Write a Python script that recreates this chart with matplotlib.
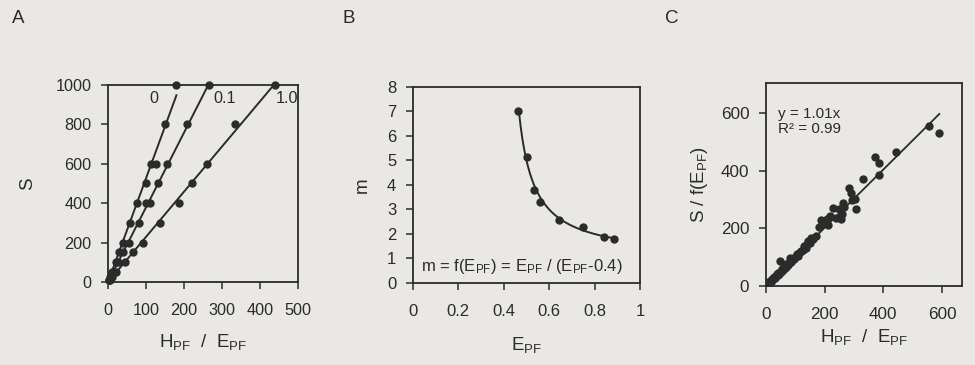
import numpy as np
import matplotlib
matplotlib.use('Agg')
import matplotlib.pyplot as plt

plt.rcParams['font.family'] = ['Liberation Sans', 'DejaVu Sans']
plt.rcParams['mathtext.fontset'] = 'custom'
plt.rcParams['mathtext.rm'] = 'Liberation Sans'
plt.rcParams['mathtext.it'] = 'Liberation Sans'

ink = '#2b2b2b'
paper = '#e9e8e4'

# panel A: S vs H_PF/E_PF for three curves
s_0 = [10, 25, 50, 100, 150, 200, 300, 400, 500, 600, 600, 800, 1000]
x_0 = [2, 5, 10, 20, 30, 40, 58, 77, 100, 112, 125, 151, 180]
s_01 = [10, 25, 50, 100, 150, 200, 300, 400, 400, 500, 600, 800, 1000]
x_01 = [3, 7, 13, 27, 40, 55, 82, 100, 110, 131, 156, 209, 266]
s_10 = [10, 25, 50, 100, 150, 200, 300, 400, 500, 600, 800, 1000]
x_10 = [4, 11, 22, 44, 67, 92, 136, 187, 221, 260, 333, 440]
series_a = [('0', x_0, s_0, 121), ('0.1', x_01, s_01, 308), ('1.0', x_10, s_10, 471)]

# panel B: m vs E_PF
e_pf = [0.462, 0.504, 0.531, 0.560, 0.641, 0.751, 0.842, 0.886]
m_val = [7.03, 5.13, 3.78, 3.31, 2.59, 2.29, 1.88, 1.81]

# panel C: S/f(E_PF) vs H_PF/E_PF
xs_c = [2, 5, 8, 10, 12, 15, 18, 20, 22, 25, 28, 30, 33, 36, 40, 42, 45, 48, 50, 52,
        55, 58, 60, 65, 68, 70, 75, 80, 82, 85, 90, 95, 100, 105, 110, 115, 120, 125, 130, 135,
        140, 145, 150, 155, 160, 170, 180, 186, 190, 200, 207, 213, 218, 230, 240, 250, 255, 258, 264, 267,
        283, 289, 292, 303, 307, 332, 372, 385, 386, 443, 556, 591]
ys_c = [3, 8, 12, 6, 15, 18, 14, 22, 26, 24, 32, 28, 35, 40, 38, 45, 42, 87, 52, 48,
        58, 55, 70, 62, 75, 66, 72, 80, 98, 84, 92, 95, 100, 110, 105, 118, 121, 125, 139, 132,
        146, 156, 150, 168, 162, 172, 203, 228, 214, 220, 231, 210, 243, 269, 236, 266, 232, 249, 289, 274,
        339, 324, 298, 301, 266, 372, 447, 385, 428, 466, 555, 532]
slope_c = 1.01

fig = plt.figure(figsize=(9.75, 3.65), dpi=100, facecolor=paper)

hpf = r'H$_{\mathrm{PF}}$  /  E$_{\mathrm{PF}}$'


def style(ax, fs=12):
    ax.set_facecolor(paper)
    for sp in ax.spines.values():
        sp.set_color(ink)
        sp.set_linewidth(1.3)
    ax.tick_params(direction='out', length=5, width=1.1, color=ink, labelcolor=ink,
                   labelsize=fs, top=False, right=False)
    ax.tick_params(axis='x', pad=10)
    ax.tick_params(axis='y', pad=7)


# A
axA = fig.add_axes([0.1108, 0.2274, 0.1949, 0.540])
style(axA, 11.7)
for lab, xv, sv, lx in series_a:
    xv = np.array(xv, float)
    sv = np.array(sv, float)
    k = np.sum(xv * sv) / np.sum(xv * xv)
    xx = np.array([0, xv.max()])
    axA.plot(xx, k * xx, color=ink, lw=1.4)
    axA.plot(xv, sv, 'o', color=ink, ms=5, clip_on=False, zorder=3)
    axA.text(lx, 933, lab, ha='center', va='center', fontsize=11.7, color=ink)
axA.set_xlim(0, 500)
axA.set_ylim(0, 1000)
axA.set_xticks(range(0, 501, 100))
axA.set_yticks(range(0, 1001, 200))
axA.set_xlabel(hpf, fontsize=13.5, color=ink, labelpad=10)
axA.set_ylabel('S', fontsize=13.5, color=ink, labelpad=14)

# B
axB = fig.add_axes([0.4236, 0.2247, 0.2328, 0.537])
style(axB, 12)
ee = np.linspace(0.468, 0.895, 200)
axB.plot(ee, ee / (ee - 0.4), color=ink, lw=1.4)
axB.plot(e_pf, m_val, 'o', color=ink, ms=5, zorder=3)
axB.set_xlim(0, 1)
axB.set_ylim(0, 8)
axB.set_xticks([0, 0.2, 0.4, 0.6, 0.8, 1])
axB.set_xticklabels(['0', '0.2', '0.4', '0.6', '0.8', '1'])
axB.set_yticks(range(0, 9))
axB.set_xlabel(r'E$_{\mathrm{PF}}$', fontsize=13.5, color=ink, labelpad=12)
axB.set_ylabel('m', fontsize=13.5, color=ink, labelpad=12)
axB.text(0.035, 0.085, r'm = f(E$_{\mathrm{PF}}$) = E$_{\mathrm{PF}}$ / (E$_{\mathrm{PF}}$-0.4)',
         transform=axB.transAxes, fontsize=12, color=ink, va='center', ha='left')

# C
axC = fig.add_axes([0.7856, 0.2164, 0.201, 0.556])
style(axC, 12.3)
xl = np.array([0, max(xs_c)])
axC.plot(xl, slope_c * xl, color=ink, lw=1.3)
axC.plot(xs_c, ys_c, 'o', color=ink, ms=5, zorder=3)
axC.set_xlim(0, 668)
axC.set_ylim(0, 704)
axC.set_xticks([0, 200, 400, 600])
axC.set_yticks([0, 200, 400, 600])
axC.set_xlabel(hpf, fontsize=13.5, color=ink, labelpad=4)
axC.set_ylabel(r'S / f(E$_{\mathrm{PF}}$)', fontsize=13.5, color=ink, labelpad=8)
axC.text(0.06, 0.85, 'y = %.2fx' % slope_c, transform=axC.transAxes, fontsize=11, color=ink, va='center')
axC.text(0.06, 0.775, 'R² = 0.99', transform=axC.transAxes, fontsize=11, color=ink, va='center')

# panel letters
for lab, px in [('A', 0.012), ('B', 0.351), ('C', 0.682)]:
    fig.text(px, 0.95, lab, fontsize=13.5, color=ink, va='center')

fig.savefig('out.png', dpi=100, facecolor=paper)
